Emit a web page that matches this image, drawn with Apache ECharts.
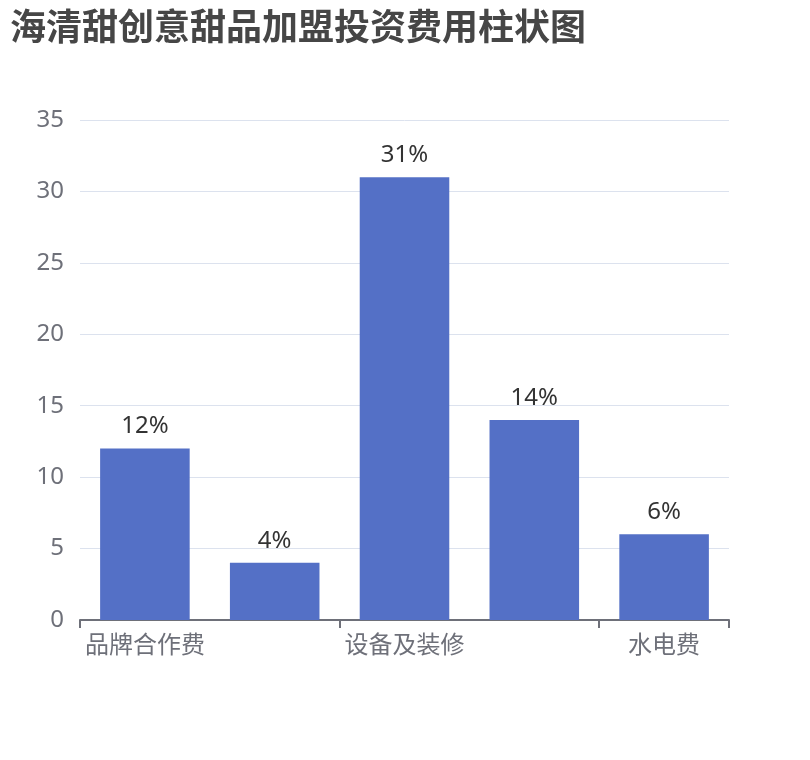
<!DOCTYPE html>
<html>
<head>
<meta charset="utf-8">
<script src="https://cdn.jsdelivr.net/npm/echarts@6/dist/echarts.min.js"></script>
<style>html,body{margin:0;padding:0;background:#fff;}#c{width:810px;height:760px;}</style>
</head>
<body>
<div id="c"></div>
<script>
const titleText = '海清甜创意甜品加盟投资费用柱状图';
const categories = ['品牌合作费', '保证金', '设备及装修', '首批进货费', '水电费'];
const values = [12, 4, 31, 14, 6];
const yTicks = { min: 0, max: 35, interval: 5 };

const chart = echarts.init(document.getElementById('c'));
chart.setOption({
  animation: false,
  title: {
    text: titleText,
    left: 5,
    top: 3,
    textStyle: { fontSize: 36, fontWeight: 'bold', color: '#464646', fontFamily: 'Noto Sans CJK SC' }
  },
  grid: { left: 80, right: 81, top: 120, bottom: 140 },
  xAxis: {
    type: 'category',
    data: categories,
    axisLabel: { interval: 1, fontSize: 24, color: '#6E7079', margin: 12, fontFamily: 'Noto Sans CJK SC' },
    axisTick: { show: true, length: 8, lineStyle: { width: 2, color: '#6E7079' } },
    axisLine: { lineStyle: { color: '#6E7079', width: 2 } }
  },
  yAxis: {
    type: 'value',
    min: yTicks.min,
    max: yTicks.max,
    interval: yTicks.interval,
    axisLabel: { fontSize: 24, color: '#6E7079', margin: 16, fontFamily: 'Noto Sans' },
    splitLine: { lineStyle: { color: '#DCE2EE' } }
  },
  series: [{
    type: 'bar',
    data: values,
    barCategoryGap: '31%',
    itemStyle: { color: '#5470C6' },
    label: {
      show: true,
      position: 'top',
      distance: 10,
      formatter: '{c}%',
      fontSize: 24,
      color: '#333',
      fontFamily: 'Noto Sans'
    }
  }]
});
</script>
</body>
</html>
